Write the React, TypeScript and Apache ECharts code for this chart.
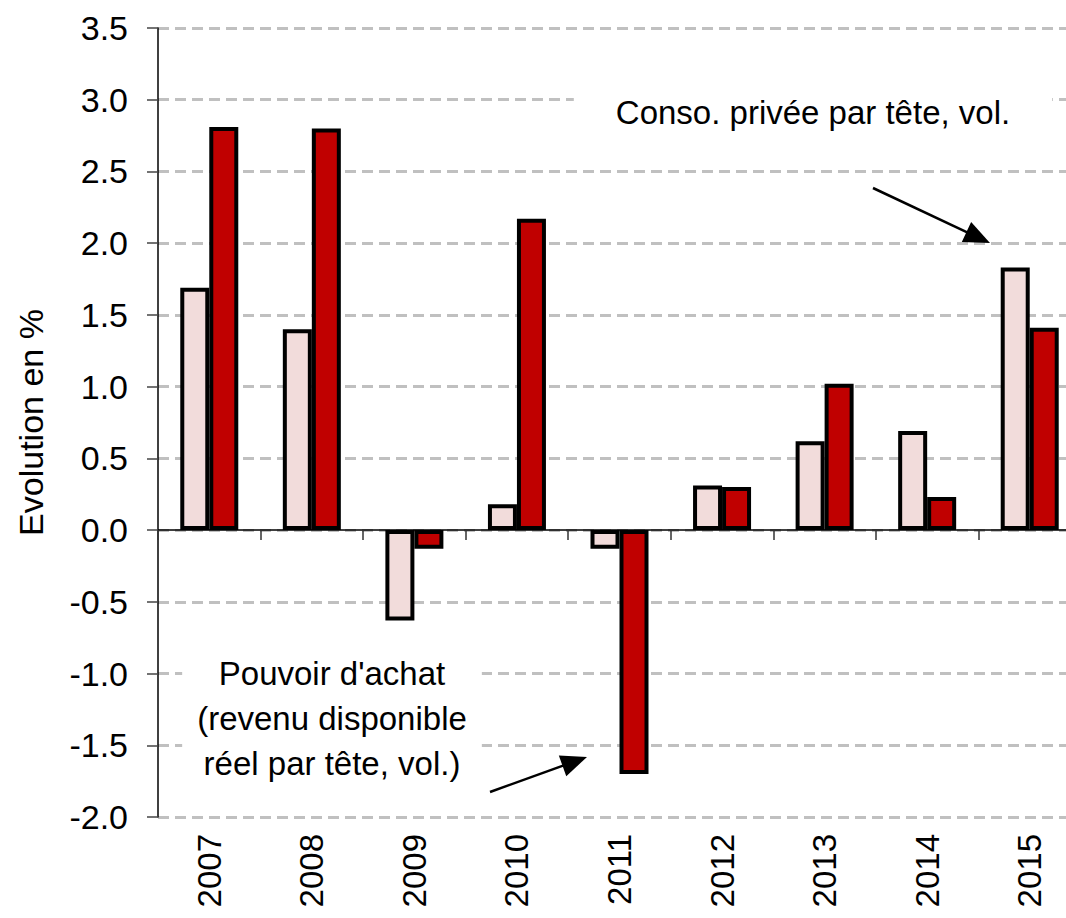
import React, { useEffect, useRef } from "react";
import * as echarts from "echarts";

const years = ["2007", "2008", "2009", "2010", "2011", "2012", "2013", "2014", "2015"];
const pouvoirAchat = [1.69, 1.40, -0.63, 0.18, -0.13, 0.31, 0.62, 0.69, 1.83];
const consoPrivee = [2.81, 2.80, -0.13, 2.17, -1.70, 0.30, 1.02, 0.23, 1.41];
const yMin = -2.0;
const yMax = 3.5;
const yStep = 0.5;

const FONT = "'Liberation Sans', Arial, sans-serif";

function arrow(x1: number, y1: number, x2: number, y2: number, len: number, half: number) {
  const dx = x2 - x1;
  const dy = y2 - y1;
  const d = Math.sqrt(dx * dx + dy * dy);
  const ux = dx / d;
  const uy = dy / d;
  const bx = x2 - ux * len;
  const by = y2 - uy * len;
  const px = -uy;
  const py = ux;
  return [
    {
      type: "line",
      shape: { x1, y1, x2: bx + ux * 2, y2: by + uy * 2 },
      style: { stroke: "#000", lineWidth: 2.5 },
      z: 100,
    },
    {
      type: "polygon",
      shape: {
        points: [
          [x2, y2],
          [bx + px * half, by + py * half],
          [bx - px * half, by - py * half],
        ],
      },
      style: { fill: "#000" },
      z: 100,
    },
  ];
}

export default function App() {
  const ref = useRef<HTMLDivElement>(null);
  useEffect(() => {
    if (!ref.current) return;
    const chart = echarts.init(ref.current, undefined, { renderer: "svg" });
    const option: any = {
      animation: false,
      backgroundColor: "#ffffff",
      textStyle: { fontFamily: FONT },
      grid: {
        left: 158,
        width: 923,
        top: 28,
        bottom: 101,
        containLabel: false,
        outerBoundsMode: "none",
      },
      xAxis: [
        {
          type: "category",
          data: years,
          position: "bottom",
          axisLine: { onZero: true, lineStyle: { color: "#000", width: 1.5 } },
          axisTick: { show: true, length: 10, lineStyle: { color: "#333", width: 1.5 } },
          axisLabel: { show: false },
          splitLine: { show: false },
        },
        {
          type: "category",
          data: years,
          position: "bottom",
          axisLine: { show: false, onZero: false },
          axisTick: { show: false },
          axisLabel: {
            show: true,
            rotate: 90,
            margin: 17,
            fontSize: 33,
            color: "#000",
            fontFamily: FONT,
          },
          splitLine: { show: false },
        },
      ],
      yAxis: {
        type: "value",
        min: yMin,
        max: yMax,
        interval: yStep,
        name: "Evolution en %",
        nameLocation: "middle",
        nameGap: 110,
        nameRotate: 90,
        nameTextStyle: { fontSize: 34, color: "#000", fontFamily: FONT },
        axisLine: { show: true, lineStyle: { color: "#000", width: 1.5 } },
        axisTick: { show: true, length: 11, lineStyle: { color: "#444", width: 1.5 } },
        axisLabel: {
          fontSize: 34,
          color: "#000",
          margin: 30,
          fontFamily: FONT,
          formatter: (v: number) => v.toFixed(1),
        },
        splitLine: {
          show: true,
          lineStyle: { color: "#c0c0c0", width: 3, type: [11, 6] },
        },
      },
      series: [
        {
          name: "Pouvoir d'achat",
          type: "bar",
          xAxisIndex: 0,
          data: pouvoirAchat,
          barWidth: 29,
          barGap: "0%",
          itemStyle: { color: "#f2dcdb", borderColor: "#000", borderWidth: 4 },
        },
        {
          name: "Conso. privée par tête, vol.",
          type: "bar",
          xAxisIndex: 0,
          data: consoPrivee,
          barWidth: 29,
          barGap: "0%",
          itemStyle: { color: "#c00000", borderColor: "#000", borderWidth: 4 },
        },
      ],
      graphic: [
        {
          type: "text",
          x: 813,
          y: 112,
          z: 90,
          style: {
            text: "Conso. privée par tête, vol.",
            fontSize: 33,
            fontFamily: FONT,
            fill: "#000",
            align: "center",
            verticalAlign: "middle",
            backgroundColor: "#fff",
            padding: [6, 42],
          },
        },
        {
          type: "text",
          x: 332,
          y: 718,
          z: 90,
          style: {
            text: "Pouvoir d'achat\n(revenu disponible\nréel par tête, vol.)",
            fontSize: 33,
            lineHeight: 45,
            fontFamily: FONT,
            fill: "#000",
            align: "center",
            verticalAlign: "middle",
            backgroundColor: "#fff",
            padding: [2, 15],
          },
        },
        ...arrow(873, 188, 990, 243, 26, 11),
        ...arrow(490, 792, 587, 757, 26, 11),
      ],
    };
    chart.setOption(option);
    return () => chart.dispose();
  }, []);
  return (
    <div
      ref={ref}
      style={{ position: "absolute", left: 0, top: 0, width: 1066, height: 918 }}
    />
  );
}
